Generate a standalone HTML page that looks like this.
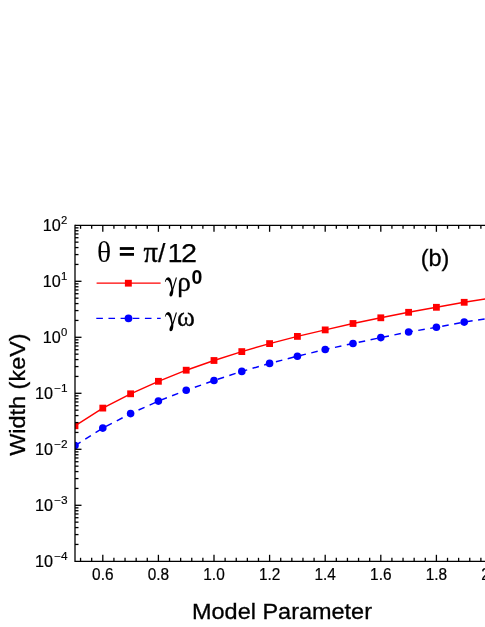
<!DOCTYPE html>
<html><head><meta charset="utf-8"><title>chart</title>
<style>html,body{margin:0;padding:0;background:#fff;}body{width:485px;height:627px;overflow:hidden;font-family:"Liberation Sans",sans-serif;}svg{display:block;will-change:transform;}</style>
</head><body>
<svg width="485" height="627" viewBox="0 0 485 627">
<rect width="485" height="627" fill="#fff"/>
<defs><clipPath id="c"><rect x="75.0" y="225.3" width="415.0" height="335.99999999999994"/></clipPath></defs>
<g clip-path="url(#c)">
<polyline points="75.00,425.80 102.80,408.10 130.60,393.80 158.40,381.30 186.20,370.20 214.00,360.50 241.80,351.60 269.60,343.60 297.40,336.40 325.20,329.90 353.00,323.50 380.80,317.80 408.60,312.30 436.40,307.30 464.20,302.30 492.00,298.00" fill="none" stroke="#ff0000" stroke-width="1.45"/>
<rect x="71.60" y="422.40" width="6.8" height="6.8" fill="#ff0000"/>
<rect x="99.40" y="404.70" width="6.8" height="6.8" fill="#ff0000"/>
<rect x="127.20" y="390.40" width="6.8" height="6.8" fill="#ff0000"/>
<rect x="155.00" y="377.90" width="6.8" height="6.8" fill="#ff0000"/>
<rect x="182.80" y="366.80" width="6.8" height="6.8" fill="#ff0000"/>
<rect x="210.60" y="357.10" width="6.8" height="6.8" fill="#ff0000"/>
<rect x="238.40" y="348.20" width="6.8" height="6.8" fill="#ff0000"/>
<rect x="266.20" y="340.20" width="6.8" height="6.8" fill="#ff0000"/>
<rect x="294.00" y="333.00" width="6.8" height="6.8" fill="#ff0000"/>
<rect x="321.80" y="326.50" width="6.8" height="6.8" fill="#ff0000"/>
<rect x="349.60" y="320.10" width="6.8" height="6.8" fill="#ff0000"/>
<rect x="377.40" y="314.40" width="6.8" height="6.8" fill="#ff0000"/>
<rect x="405.20" y="308.90" width="6.8" height="6.8" fill="#ff0000"/>
<rect x="433.00" y="303.90" width="6.8" height="6.8" fill="#ff0000"/>
<rect x="460.80" y="298.90" width="6.8" height="6.8" fill="#ff0000"/>
<rect x="488.60" y="294.60" width="6.8" height="6.8" fill="#ff0000"/>
<polyline points="75.00,445.60 102.80,428.10 130.60,413.60 158.40,401.10 186.20,390.30 214.00,380.50 241.80,371.40 269.60,363.40 297.40,356.20 325.20,349.50 353.00,343.50 380.80,337.60 408.60,332.00 436.40,327.30 464.20,322.10 492.00,317.80" fill="none" stroke="#0000ff" stroke-width="1.45" stroke-dasharray="6.6 5.55"/>
<circle cx="75.00" cy="445.60" r="3.8" fill="#0000ff"/>
<circle cx="102.80" cy="428.10" r="3.8" fill="#0000ff"/>
<circle cx="130.60" cy="413.60" r="3.8" fill="#0000ff"/>
<circle cx="158.40" cy="401.10" r="3.8" fill="#0000ff"/>
<circle cx="186.20" cy="390.30" r="3.8" fill="#0000ff"/>
<circle cx="214.00" cy="380.50" r="3.8" fill="#0000ff"/>
<circle cx="241.80" cy="371.40" r="3.8" fill="#0000ff"/>
<circle cx="269.60" cy="363.40" r="3.8" fill="#0000ff"/>
<circle cx="297.40" cy="356.20" r="3.8" fill="#0000ff"/>
<circle cx="325.20" cy="349.50" r="3.8" fill="#0000ff"/>
<circle cx="353.00" cy="343.50" r="3.8" fill="#0000ff"/>
<circle cx="380.80" cy="337.60" r="3.8" fill="#0000ff"/>
<circle cx="408.60" cy="332.00" r="3.8" fill="#0000ff"/>
<circle cx="436.40" cy="327.30" r="3.8" fill="#0000ff"/>
<circle cx="464.20" cy="322.10" r="3.8" fill="#0000ff"/>
<circle cx="492.00" cy="317.80" r="3.8" fill="#0000ff"/>
</g>
<g stroke="#000" stroke-width="1.3" fill="none" stroke-linecap="butt">
<line x1="75.0" y1="224.65" x2="75.0" y2="561.9499999999999"/>
<line x1="75.0" y1="225.3" x2="485" y2="225.3"/>
<line x1="75.0" y1="561.3" x2="485" y2="561.3"/>
<line x1="80.56" y1="561.3" x2="80.56" y2="557.8"/>
<line x1="80.56" y1="225.3" x2="80.56" y2="228.8"/>
<line x1="91.68" y1="561.3" x2="91.68" y2="557.8"/>
<line x1="91.68" y1="225.3" x2="91.68" y2="228.8"/>
<line x1="102.80" y1="561.3" x2="102.80" y2="554.8"/>
<line x1="102.80" y1="225.3" x2="102.80" y2="231.8"/>
<line x1="113.92" y1="561.3" x2="113.92" y2="557.8"/>
<line x1="113.92" y1="225.3" x2="113.92" y2="228.8"/>
<line x1="125.04" y1="561.3" x2="125.04" y2="557.8"/>
<line x1="125.04" y1="225.3" x2="125.04" y2="228.8"/>
<line x1="136.16" y1="561.3" x2="136.16" y2="557.8"/>
<line x1="136.16" y1="225.3" x2="136.16" y2="228.8"/>
<line x1="147.28" y1="561.3" x2="147.28" y2="557.8"/>
<line x1="147.28" y1="225.3" x2="147.28" y2="228.8"/>
<line x1="158.40" y1="561.3" x2="158.40" y2="554.8"/>
<line x1="158.40" y1="225.3" x2="158.40" y2="231.8"/>
<line x1="169.52" y1="561.3" x2="169.52" y2="557.8"/>
<line x1="169.52" y1="225.3" x2="169.52" y2="228.8"/>
<line x1="180.64" y1="561.3" x2="180.64" y2="557.8"/>
<line x1="180.64" y1="225.3" x2="180.64" y2="228.8"/>
<line x1="191.76" y1="561.3" x2="191.76" y2="557.8"/>
<line x1="191.76" y1="225.3" x2="191.76" y2="228.8"/>
<line x1="202.88" y1="561.3" x2="202.88" y2="557.8"/>
<line x1="202.88" y1="225.3" x2="202.88" y2="228.8"/>
<line x1="214.00" y1="561.3" x2="214.00" y2="554.8"/>
<line x1="214.00" y1="225.3" x2="214.00" y2="231.8"/>
<line x1="225.12" y1="561.3" x2="225.12" y2="557.8"/>
<line x1="225.12" y1="225.3" x2="225.12" y2="228.8"/>
<line x1="236.24" y1="561.3" x2="236.24" y2="557.8"/>
<line x1="236.24" y1="225.3" x2="236.24" y2="228.8"/>
<line x1="247.36" y1="561.3" x2="247.36" y2="557.8"/>
<line x1="247.36" y1="225.3" x2="247.36" y2="228.8"/>
<line x1="258.48" y1="561.3" x2="258.48" y2="557.8"/>
<line x1="258.48" y1="225.3" x2="258.48" y2="228.8"/>
<line x1="269.60" y1="561.3" x2="269.60" y2="554.8"/>
<line x1="269.60" y1="225.3" x2="269.60" y2="231.8"/>
<line x1="280.72" y1="561.3" x2="280.72" y2="557.8"/>
<line x1="280.72" y1="225.3" x2="280.72" y2="228.8"/>
<line x1="291.84" y1="561.3" x2="291.84" y2="557.8"/>
<line x1="291.84" y1="225.3" x2="291.84" y2="228.8"/>
<line x1="302.96" y1="561.3" x2="302.96" y2="557.8"/>
<line x1="302.96" y1="225.3" x2="302.96" y2="228.8"/>
<line x1="314.08" y1="561.3" x2="314.08" y2="557.8"/>
<line x1="314.08" y1="225.3" x2="314.08" y2="228.8"/>
<line x1="325.20" y1="561.3" x2="325.20" y2="554.8"/>
<line x1="325.20" y1="225.3" x2="325.20" y2="231.8"/>
<line x1="336.32" y1="561.3" x2="336.32" y2="557.8"/>
<line x1="336.32" y1="225.3" x2="336.32" y2="228.8"/>
<line x1="347.44" y1="561.3" x2="347.44" y2="557.8"/>
<line x1="347.44" y1="225.3" x2="347.44" y2="228.8"/>
<line x1="358.56" y1="561.3" x2="358.56" y2="557.8"/>
<line x1="358.56" y1="225.3" x2="358.56" y2="228.8"/>
<line x1="369.68" y1="561.3" x2="369.68" y2="557.8"/>
<line x1="369.68" y1="225.3" x2="369.68" y2="228.8"/>
<line x1="380.80" y1="561.3" x2="380.80" y2="554.8"/>
<line x1="380.80" y1="225.3" x2="380.80" y2="231.8"/>
<line x1="391.92" y1="561.3" x2="391.92" y2="557.8"/>
<line x1="391.92" y1="225.3" x2="391.92" y2="228.8"/>
<line x1="403.04" y1="561.3" x2="403.04" y2="557.8"/>
<line x1="403.04" y1="225.3" x2="403.04" y2="228.8"/>
<line x1="414.16" y1="561.3" x2="414.16" y2="557.8"/>
<line x1="414.16" y1="225.3" x2="414.16" y2="228.8"/>
<line x1="425.28" y1="561.3" x2="425.28" y2="557.8"/>
<line x1="425.28" y1="225.3" x2="425.28" y2="228.8"/>
<line x1="436.40" y1="561.3" x2="436.40" y2="554.8"/>
<line x1="436.40" y1="225.3" x2="436.40" y2="231.8"/>
<line x1="447.52" y1="561.3" x2="447.52" y2="557.8"/>
<line x1="447.52" y1="225.3" x2="447.52" y2="228.8"/>
<line x1="458.64" y1="561.3" x2="458.64" y2="557.8"/>
<line x1="458.64" y1="225.3" x2="458.64" y2="228.8"/>
<line x1="469.76" y1="561.3" x2="469.76" y2="557.8"/>
<line x1="469.76" y1="225.3" x2="469.76" y2="228.8"/>
<line x1="480.88" y1="561.3" x2="480.88" y2="557.8"/>
<line x1="480.88" y1="225.3" x2="480.88" y2="228.8"/>
<line x1="75.0" y1="544.44" x2="78.5" y2="544.44"/>
<line x1="75.0" y1="534.58" x2="78.5" y2="534.58"/>
<line x1="75.0" y1="527.58" x2="78.5" y2="527.58"/>
<line x1="75.0" y1="522.16" x2="78.5" y2="522.16"/>
<line x1="75.0" y1="517.72" x2="78.5" y2="517.72"/>
<line x1="75.0" y1="513.97" x2="78.5" y2="513.97"/>
<line x1="75.0" y1="510.73" x2="78.5" y2="510.73"/>
<line x1="75.0" y1="507.86" x2="78.5" y2="507.86"/>
<line x1="75.0" y1="505.30" x2="81.5" y2="505.30"/>
<line x1="75.0" y1="488.44" x2="78.5" y2="488.44"/>
<line x1="75.0" y1="478.58" x2="78.5" y2="478.58"/>
<line x1="75.0" y1="471.58" x2="78.5" y2="471.58"/>
<line x1="75.0" y1="466.16" x2="78.5" y2="466.16"/>
<line x1="75.0" y1="461.72" x2="78.5" y2="461.72"/>
<line x1="75.0" y1="457.97" x2="78.5" y2="457.97"/>
<line x1="75.0" y1="454.73" x2="78.5" y2="454.73"/>
<line x1="75.0" y1="451.86" x2="78.5" y2="451.86"/>
<line x1="75.0" y1="449.30" x2="81.5" y2="449.30"/>
<line x1="75.0" y1="432.44" x2="78.5" y2="432.44"/>
<line x1="75.0" y1="422.58" x2="78.5" y2="422.58"/>
<line x1="75.0" y1="415.58" x2="78.5" y2="415.58"/>
<line x1="75.0" y1="410.16" x2="78.5" y2="410.16"/>
<line x1="75.0" y1="405.72" x2="78.5" y2="405.72"/>
<line x1="75.0" y1="401.97" x2="78.5" y2="401.97"/>
<line x1="75.0" y1="398.73" x2="78.5" y2="398.73"/>
<line x1="75.0" y1="395.86" x2="78.5" y2="395.86"/>
<line x1="75.0" y1="393.30" x2="81.5" y2="393.30"/>
<line x1="75.0" y1="376.44" x2="78.5" y2="376.44"/>
<line x1="75.0" y1="366.58" x2="78.5" y2="366.58"/>
<line x1="75.0" y1="359.58" x2="78.5" y2="359.58"/>
<line x1="75.0" y1="354.16" x2="78.5" y2="354.16"/>
<line x1="75.0" y1="349.72" x2="78.5" y2="349.72"/>
<line x1="75.0" y1="345.97" x2="78.5" y2="345.97"/>
<line x1="75.0" y1="342.73" x2="78.5" y2="342.73"/>
<line x1="75.0" y1="339.86" x2="78.5" y2="339.86"/>
<line x1="75.0" y1="337.30" x2="81.5" y2="337.30"/>
<line x1="75.0" y1="320.44" x2="78.5" y2="320.44"/>
<line x1="75.0" y1="310.58" x2="78.5" y2="310.58"/>
<line x1="75.0" y1="303.58" x2="78.5" y2="303.58"/>
<line x1="75.0" y1="298.16" x2="78.5" y2="298.16"/>
<line x1="75.0" y1="293.72" x2="78.5" y2="293.72"/>
<line x1="75.0" y1="289.97" x2="78.5" y2="289.97"/>
<line x1="75.0" y1="286.73" x2="78.5" y2="286.73"/>
<line x1="75.0" y1="283.86" x2="78.5" y2="283.86"/>
<line x1="75.0" y1="281.30" x2="81.5" y2="281.30"/>
<line x1="75.0" y1="264.44" x2="78.5" y2="264.44"/>
<line x1="75.0" y1="254.58" x2="78.5" y2="254.58"/>
<line x1="75.0" y1="247.58" x2="78.5" y2="247.58"/>
<line x1="75.0" y1="242.16" x2="78.5" y2="242.16"/>
<line x1="75.0" y1="237.72" x2="78.5" y2="237.72"/>
<line x1="75.0" y1="233.97" x2="78.5" y2="233.97"/>
<line x1="75.0" y1="230.73" x2="78.5" y2="230.73"/>
<line x1="75.0" y1="227.86" x2="78.5" y2="227.86"/>
</g>
<text x="53.1" y="566.7" font-family="Liberation Sans, sans-serif" font-size="16.2" text-anchor="end" stroke="#000" stroke-width="0.2" fill="#000">10</text>
<text x="54.1" y="560.1" font-family="Liberation Sans, sans-serif" font-size="11" textLength="13.5" lengthAdjust="spacingAndGlyphs" stroke="#000" stroke-width="0.15" fill="#000">−4</text>
<text x="53.1" y="510.7" font-family="Liberation Sans, sans-serif" font-size="16.2" text-anchor="end" stroke="#000" stroke-width="0.2" fill="#000">10</text>
<text x="54.1" y="504.1" font-family="Liberation Sans, sans-serif" font-size="11" textLength="13.5" lengthAdjust="spacingAndGlyphs" stroke="#000" stroke-width="0.15" fill="#000">−3</text>
<text x="53.1" y="454.7" font-family="Liberation Sans, sans-serif" font-size="16.2" text-anchor="end" stroke="#000" stroke-width="0.2" fill="#000">10</text>
<text x="54.1" y="448.1" font-family="Liberation Sans, sans-serif" font-size="11" textLength="13.5" lengthAdjust="spacingAndGlyphs" stroke="#000" stroke-width="0.15" fill="#000">−2</text>
<text x="53.1" y="398.7" font-family="Liberation Sans, sans-serif" font-size="16.2" text-anchor="end" stroke="#000" stroke-width="0.2" fill="#000">10</text>
<text x="54.1" y="392.1" font-family="Liberation Sans, sans-serif" font-size="11" textLength="13.5" lengthAdjust="spacingAndGlyphs" stroke="#000" stroke-width="0.15" fill="#000">−1</text>
<text x="60.8" y="342.7" font-family="Liberation Sans, sans-serif" font-size="16.2" text-anchor="end" stroke="#000" stroke-width="0.2" fill="#000">10</text>
<text x="61.1" y="336.1" font-family="Liberation Sans, sans-serif" font-size="11.3" stroke="#000" stroke-width="0.15" fill="#000">0</text>
<text x="60.8" y="286.7" font-family="Liberation Sans, sans-serif" font-size="16.2" text-anchor="end" stroke="#000" stroke-width="0.2" fill="#000">10</text>
<text x="61.1" y="280.1" font-family="Liberation Sans, sans-serif" font-size="11.3" stroke="#000" stroke-width="0.15" fill="#000">1</text>
<text x="60.8" y="230.7" font-family="Liberation Sans, sans-serif" font-size="16.2" text-anchor="end" stroke="#000" stroke-width="0.2" fill="#000">10</text>
<text x="61.1" y="224.1" font-family="Liberation Sans, sans-serif" font-size="11.3" stroke="#000" stroke-width="0.15" fill="#000">2</text>
<text x="102.8" y="580.4" font-family="Liberation Sans, sans-serif" font-size="16" text-anchor="middle" textLength="21.4" lengthAdjust="spacingAndGlyphs" stroke="#000" stroke-width="0.2" fill="#000">0.6</text>
<text x="158.4" y="580.4" font-family="Liberation Sans, sans-serif" font-size="16" text-anchor="middle" textLength="21.4" lengthAdjust="spacingAndGlyphs" stroke="#000" stroke-width="0.2" fill="#000">0.8</text>
<text x="214.0" y="580.4" font-family="Liberation Sans, sans-serif" font-size="16" text-anchor="middle" textLength="21.4" lengthAdjust="spacingAndGlyphs" stroke="#000" stroke-width="0.2" fill="#000">1.0</text>
<text x="269.6" y="580.4" font-family="Liberation Sans, sans-serif" font-size="16" text-anchor="middle" textLength="21.4" lengthAdjust="spacingAndGlyphs" stroke="#000" stroke-width="0.2" fill="#000">1.2</text>
<text x="325.2" y="580.4" font-family="Liberation Sans, sans-serif" font-size="16" text-anchor="middle" textLength="21.4" lengthAdjust="spacingAndGlyphs" stroke="#000" stroke-width="0.2" fill="#000">1.4</text>
<text x="380.8" y="580.4" font-family="Liberation Sans, sans-serif" font-size="16" text-anchor="middle" textLength="21.4" lengthAdjust="spacingAndGlyphs" stroke="#000" stroke-width="0.2" fill="#000">1.6</text>
<text x="436.4" y="580.4" font-family="Liberation Sans, sans-serif" font-size="16" text-anchor="middle" textLength="21.4" lengthAdjust="spacingAndGlyphs" stroke="#000" stroke-width="0.2" fill="#000">1.8</text>
<text x="492.0" y="580.4" font-family="Liberation Sans, sans-serif" font-size="16" text-anchor="middle" textLength="21.4" lengthAdjust="spacingAndGlyphs" stroke="#000" stroke-width="0.2" fill="#000">2.0</text>
<text x="282" y="619.3" font-family="Liberation Sans, sans-serif" font-size="22" text-anchor="middle" textLength="180" lengthAdjust="spacingAndGlyphs" stroke="#000" stroke-width="0.3" fill="#000">Model Parameter</text>
<text transform="translate(24.5,394.6) rotate(-90)" font-family="Liberation Sans, sans-serif" font-size="21.5" text-anchor="middle" textLength="122.5" lengthAdjust="spacingAndGlyphs" stroke="#000" stroke-width="0.3" fill="#000">Width (keV)</text>
<text x="96.9" y="262.0" font-family="Liberation Serif, serif" font-size="29.5" fill="#000">θ</text>
<rect x="119.8" y="247.1" width="14.2" height="2.8" fill="#000"/>
<rect x="119.8" y="253.0" width="14.2" height="2.8" fill="#000"/>
<text x="143.4" y="261.6" font-family="Liberation Serif, serif" font-size="28.5" stroke="#000" stroke-width="0.4" fill="#000">π</text>
<text x="158.0" y="261.5" font-family="Liberation Sans, sans-serif" font-size="26.5" stroke="#000" stroke-width="0.25" fill="#000">/</text>
<text x="167.8" y="261.5" font-family="Liberation Sans, sans-serif" font-size="26.5" stroke="#000" stroke-width="0.25" fill="#000">1</text>
<text x="181.0" y="261.5" font-family="Liberation Sans, sans-serif" font-size="26.5" textLength="16" lengthAdjust="spacingAndGlyphs" stroke="#000" stroke-width="0.25" fill="#000">2</text>
<text x="420.7" y="265.5" font-family="Liberation Sans, sans-serif" font-size="23.4" stroke="#000" stroke-width="0.3" fill="#000">(b)</text>
<line x1="96.6" y1="283.2" x2="160.6" y2="283.2" stroke="#ff0000" stroke-width="1.2"/>
<rect x="124.9" y="279.8" width="6.9" height="6.8" fill="#ff0000"/>
<path d="M164.9,281.9 C165.2,279.6 166.4,277.3 168.3,277.3 C170.1,277.3 171.1,279.5 171.7,282.5 C172.1,284.5 172.4,286.6 172.6,288.0 L175.8,277.6 L177.0,277.6 L173.3,289.6 C173.5,291.8 173.0,294.8 172.0,296.0 C171.3,296.7 170.1,296.6 169.6,295.7 C169.2,294.6 169.7,293.0 170.3,291.8 C170.8,290.8 171.3,290.0 171.3,289.0 C171.0,286.2 170.0,283.0 168.8,281.2 C168.0,280.1 167.0,279.8 166.3,280.3 C165.9,280.7 165.7,281.3 165.5,282.0 Z" fill="#000"/>
<text x="177.3" y="290.6" font-family="Liberation Serif, serif" font-size="27.2" stroke="#000" stroke-width="0.3" fill="#000">ρ</text>
<text x="191.6" y="284.4" font-family="Liberation Sans, sans-serif" font-size="19.5" font-weight="bold" fill="#000">0</text>
<line x1="96.3" y1="318.35" x2="160.7" y2="318.35" stroke="#0000ff" stroke-width="1.3" stroke-dasharray="6.6 5.55"/>
<circle cx="128.5" cy="318.3" r="3.9" fill="#0000ff"/>
<path d="M164.9,281.9 C165.2,279.6 166.4,277.3 168.3,277.3 C170.1,277.3 171.1,279.5 171.7,282.5 C172.1,284.5 172.4,286.6 172.6,288.0 L175.8,277.6 L177.0,277.6 L173.3,289.6 C173.5,291.8 173.0,294.8 172.0,296.0 C171.3,296.7 170.1,296.6 169.6,295.7 C169.2,294.6 169.7,293.0 170.3,291.8 C170.8,290.8 171.3,290.0 171.3,289.0 C171.0,286.2 170.0,283.0 168.8,281.2 C168.0,280.1 167.0,279.8 166.3,280.3 C165.9,280.7 165.7,281.3 165.5,282.0 Z" transform="translate(0,34.8)" fill="#000"/>
<text x="177.0" y="325.8" font-family="Liberation Serif, serif" font-size="27.2" stroke="#000" stroke-width="0.3" fill="#000">ω</text>
</svg>
</body></html>
